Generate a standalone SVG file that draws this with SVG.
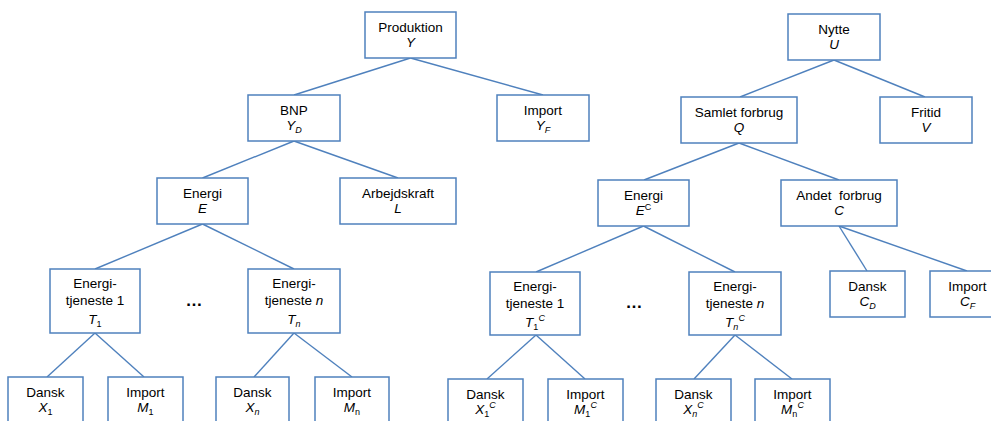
<svg xmlns="http://www.w3.org/2000/svg" width="991" height="421" viewBox="0 0 991 421">
<style>
.box{fill:#fff;stroke:#4F81BD;stroke-width:1.5}
.edge{stroke:#4F81BD;stroke-width:1.4;fill:none}
text{font-family:"Liberation Sans",Arial,sans-serif;font-size:13.5px;fill:#000;text-anchor:middle}
.i{font-style:italic}
.s{font-size:9px}
.dots{font-size:17px;font-weight:bold}
</style>
<rect width="991" height="421" fill="#fff"/>
<g id="connectors">
<line class="edge" x1="410.5" y1="58" x2="294" y2="95"/>
<line class="edge" x1="410.5" y1="58" x2="543" y2="95"/>
<line class="edge" x1="294" y1="141" x2="202.5" y2="178"/>
<line class="edge" x1="294" y1="141" x2="398" y2="178"/>
<line class="edge" x1="202.5" y1="224" x2="95" y2="269"/>
<line class="edge" x1="202.5" y1="224" x2="294" y2="269"/>
<line class="edge" x1="95" y1="333" x2="47" y2="377"/>
<line class="edge" x1="95" y1="333" x2="144" y2="377"/>
<line class="edge" x1="294" y1="333" x2="254" y2="377"/>
<line class="edge" x1="294" y1="333" x2="352" y2="377"/>
<line class="edge" x1="834" y1="60" x2="740" y2="97"/>
<line class="edge" x1="834" y1="60" x2="925" y2="97"/>
<line class="edge" x1="739" y1="143" x2="644" y2="180"/>
<line class="edge" x1="739" y1="143" x2="839" y2="180"/>
<line class="edge" x1="643.5" y1="226" x2="536" y2="272"/>
<line class="edge" x1="643.5" y1="226" x2="735" y2="272"/>
<line class="edge" x1="839" y1="226" x2="867" y2="271"/>
<line class="edge" x1="839" y1="226" x2="967" y2="271"/>
<line class="edge" x1="536" y1="335" x2="487" y2="379"/>
<line class="edge" x1="536" y1="335" x2="585" y2="379"/>
<line class="edge" x1="735" y1="335" x2="694" y2="379"/>
<line class="edge" x1="735" y1="335" x2="792" y2="379"/>
</g>
<g id="produktion"><rect class="box" x="365" y="12" width="91" height="46"/><text x="410.5" y="31.5">Produktion</text><text x="410.5" y="47" class="i">Y</text></g>
<g id="bnp"><rect class="box" x="248" y="95" width="92" height="46"/><text x="294" y="114.5">BNP</text><text x="294" y="130"><tspan class="i">Y</tspan><tspan class="i s" dy="3">D</tspan></text></g>
<g id="importY"><rect class="box" x="497" y="95" width="92" height="46"/><text x="543" y="114.5">Import</text><text x="543" y="130"><tspan class="i">Y</tspan><tspan class="i s" dy="3">F</tspan></text></g>
<g id="energiE"><rect class="box" x="157" y="178" width="91" height="46"/><text x="202.5" y="197.5">Energi</text><text x="202.5" y="213" class="i">E</text></g>
<g id="arbejdskraft"><rect class="box" x="340" y="178" width="116" height="46"/><text x="398" y="197.5">Arbejdskraft</text><text x="398" y="213" class="i">L</text></g>
<g id="T1"><rect class="box" x="50" y="269" width="90" height="64"/><text x="95" y="287.5">Energi-</text><text x="95" y="305">tjeneste 1</text><text x="95" y="324"><tspan class="i">T</tspan><tspan class="s" dy="3">1</tspan></text></g>
<g id="Tn"><rect class="box" x="248" y="269" width="92" height="64"/><text x="294" y="287.5">Energi-</text><text x="294" y="305">tjeneste <tspan class="i">n</tspan></text><text x="294" y="324"><tspan class="i">T</tspan><tspan class="i s" dy="3">n</tspan></text></g>
<g id="X1"><rect class="box" x="8" y="377" width="75" height="46"/><text x="45.5" y="396.5">Dansk</text><text x="45.5" y="412"><tspan class="i">X</tspan><tspan class="s" dy="3">1</tspan></text></g>
<g id="M1"><rect class="box" x="108" y="377" width="75" height="46"/><text x="145.5" y="396.5">Import</text><text x="145.5" y="412"><tspan class="i">M</tspan><tspan class="s" dy="3">1</tspan></text></g>
<g id="Xn"><rect class="box" x="216" y="377" width="73" height="46"/><text x="252.5" y="396.5">Dansk</text><text x="252.5" y="412"><tspan class="i">X</tspan><tspan class="i s" dy="3">n</tspan></text></g>
<g id="Mn"><rect class="box" x="315" y="377" width="74" height="46"/><text x="352" y="396.5">Import</text><text x="352" y="412"><tspan class="i">M</tspan><tspan class="s" dy="3">n</tspan></text></g>
<g id="dotsLeft"><text x="194" y="306" class="dots">…</text></g>
<g id="nytte"><rect class="box" x="788" y="14" width="92" height="46"/><text x="834" y="33.5">Nytte</text><text x="834" y="49" class="i">U</text></g>
<g id="samlet"><rect class="box" x="681" y="97" width="116" height="46"/><text x="739" y="116.5">Samlet forbrug</text><text x="739" y="132" class="i">Q</text></g>
<g id="fritid"><rect class="box" x="880" y="97" width="92" height="46"/><text x="926" y="116.5">Fritid</text><text x="926" y="132" class="i">V</text></g>
<g id="energiEC"><rect class="box" x="598" y="180" width="91" height="46"/><text x="643.5" y="199.5">Energi</text><text x="643.5" y="215"><tspan class="i">E</tspan><tspan class="s" dy="-5">C</tspan></text></g>
<g id="andet"><rect class="box" x="781" y="180" width="116" height="46"/><text x="839" y="199.5" xml:space="preserve">Andet  forbrug</text><text x="839" y="215" class="i">C</text></g>
<g id="CD"><rect class="box" x="830" y="271" width="75" height="46"/><text x="867.5" y="290.5">Dansk</text><text x="867.5" y="306"><tspan class="i">C</tspan><tspan class="i s" dy="3">D</tspan></text></g>
<g id="CF"><rect class="box" x="930" y="271" width="75" height="46"/><text x="967.5" y="290.5">Import</text><text x="967.5" y="306"><tspan class="i">C</tspan><tspan class="i s" dy="3">F</tspan></text></g>
<g id="T1C"><rect class="box" x="490" y="272" width="90" height="63"/><text x="535" y="290.5">Energi-</text><text x="535" y="308">tjeneste 1</text><text x="535" y="327"><tspan class="i">T</tspan><tspan class="s" dy="3">1</tspan><tspan class="i s" dy="-9">C</tspan></text></g>
<g id="TnC"><rect class="box" x="689" y="272" width="92" height="63"/><text x="735" y="290.5">Energi-</text><text x="735" y="308">tjeneste <tspan class="i">n</tspan></text><text x="735" y="327"><tspan class="i">T</tspan><tspan class="i s" dy="3">n</tspan><tspan class="i s" dy="-9">C</tspan></text></g>
<g id="dotsRight"><text x="634" y="308" class="dots">…</text></g>
<g id="X1C"><rect class="box" x="448" y="379" width="75" height="46"/><text x="485.5" y="398.5">Dansk</text><text x="485.5" y="414"><tspan class="i">X</tspan><tspan class="s" dy="3">1</tspan><tspan class="i s" dy="-9">C</tspan></text></g>
<g id="M1C"><rect class="box" x="548" y="379" width="75" height="46"/><text x="585.5" y="398.5">Import</text><text x="585.5" y="414"><tspan class="i">M</tspan><tspan class="s" dy="3">1</tspan><tspan class="i s" dy="-9">C</tspan></text></g>
<g id="XnC"><rect class="box" x="656" y="379" width="75" height="46"/><text x="693.5" y="398.5">Dansk</text><text x="693.5" y="414"><tspan class="i">X</tspan><tspan class="i s" dy="3">n</tspan><tspan class="i s" dy="-9">C</tspan></text></g>
<g id="MnC"><rect class="box" x="755" y="379" width="75" height="46"/><text x="792.5" y="398.5">Import</text><text x="792.5" y="414"><tspan class="i">M</tspan><tspan class="s" dy="3">n</tspan><tspan class="i s" dy="-9">C</tspan></text></g>
</svg>
